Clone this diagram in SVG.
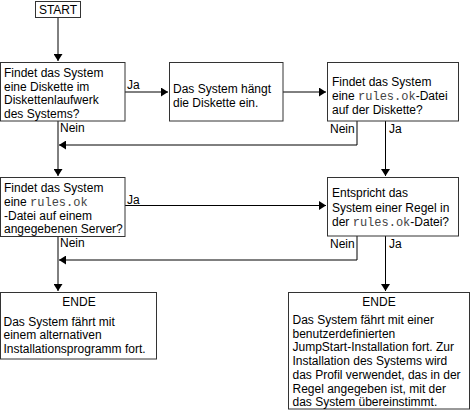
<svg xmlns="http://www.w3.org/2000/svg" width="473" height="417" viewBox="0 0 473 417">
<defs>
<marker id="ah" markerUnits="userSpaceOnUse" markerWidth="8" markerHeight="9" refX="7" refY="4.5" orient="auto">
<path d="M0,0 L7,4.5 L0,9 z" fill="#000"/>
</marker>
<style>
rect{fill:#fff;stroke:#333;stroke-width:1}
text{font-family:"Liberation Sans",Arial,sans-serif;font-size:12px;fill:#000}
.m{font-family:"Liberation Mono","Courier New",monospace;fill:#444}
.c{text-anchor:middle}
#connectors path{fill:none;stroke:#000;stroke-width:1}
</style>
</defs>
<rect width="473" height="417" style="fill:#fff;stroke:none"/>
<g id="connectors">
<path d="M58,17 V61" marker-end="url(#ah)"/>
<path d="M125,92 H168" marker-end="url(#ah)"/>
<path d="M283,92 H326" marker-end="url(#ah)"/>
<path d="M357,121 V145 H59" marker-end="url(#ah)"/>
<path d="M385.5,121 V176" marker-end="url(#ah)"/>
<path d="M58,121 V176" marker-end="url(#ah)"/>
<path d="M125,205.5 H326" marker-end="url(#ah)"/>
<path d="M357,236 V260 H59" marker-end="url(#ah)"/>
<path d="M58,237 V291" marker-end="url(#ah)"/>
<path d="M385.5,236 V291" marker-end="url(#ah)"/>
<text x="127" y="89">Ja</text>
<text x="60" y="132">Nein</text>
<text x="330" y="133">Nein</text>
<text x="389" y="133">Ja</text>
<text x="127" y="204">Ja</text>
<text x="60" y="247">Nein</text>
<text x="330" y="247.5">Nein</text>
<text x="389" y="247.5">Ja</text>
</g>
<g id="start">
<rect x="35.5" y="1.5" width="45" height="16"/>
<text x="58" y="14" class="c">START</text>
</g>
<g id="q-diskette">
<rect x="0.5" y="62.5" width="124.5" height="58.5"/>
<text x="4" y="77">Findet das System</text>
<text x="4" y="90.7">eine Diskette im</text>
<text x="4" y="104.3">Diskettenlaufwerk</text>
<text x="4" y="118">des Systems?</text>
</g>
<g id="mount">
<rect x="169.5" y="62.5" width="113.5" height="58.5"/>
<text x="173" y="93">Das System hängt</text>
<text x="173" y="106.5">die Diskette ein.</text>
</g>
<g id="q-rules-diskette">
<rect x="327.5" y="62.5" width="131" height="58.5"/>
<text x="332" y="86">Findet das System</text>
<text x="332" y="100">eine <tspan class="m">rules.ok</tspan>-Datei</text>
<text x="332" y="114">auf der Diskette?</text>
</g>
<g id="q-rules-server">
<rect x="0.5" y="177.5" width="124.5" height="59"/>
<text x="4" y="192">Findet das System</text>
<text x="4" y="206">eine <tspan class="m">rules.ok</tspan></text>
<text x="4" y="219.5">-Datei auf einem</text>
<text x="4" y="233">angegebenen Server?</text>
</g>
<g id="q-rule-match">
<rect x="327.5" y="177.5" width="131" height="58.5"/>
<text x="332" y="197">Entspricht das</text>
<text x="332" y="211.5">System einer Regel in</text>
<text x="332" y="225.7">der <tspan class="m">rules.ok</tspan>-Datei?</text>
</g>
<g id="end-alt">
<rect x="0.5" y="292.5" width="156" height="66.5"/>
<text x="79" y="306" class="c">ENDE</text>
<text x="3.5" y="325.7">Das System fährt mit</text>
<text x="3.5" y="339.2">einem alternativen</text>
<text x="3.5" y="352.7">Installationsprogramm fort.</text>
</g>
<g id="end-jumpstart">
<rect x="288.5" y="292.5" width="181" height="116.5"/>
<text x="379" y="306" class="c">ENDE</text>
<text x="292.5" y="324">Das System fährt mit einer</text>
<text x="292.5" y="337.7">benutzerdefinierten</text>
<text x="292.5" y="351.4">JumpStart-Installation fort. Zur</text>
<text x="292.5" y="365.1">Installation des Systems wird</text>
<text x="292.5" y="378.8">das Profil verwendet, das in der</text>
<text x="292.5" y="392.5">Regel angegeben ist, mit der</text>
<text x="292.5" y="406.2">das System übereinstimmt.</text>
</g>
</svg>
